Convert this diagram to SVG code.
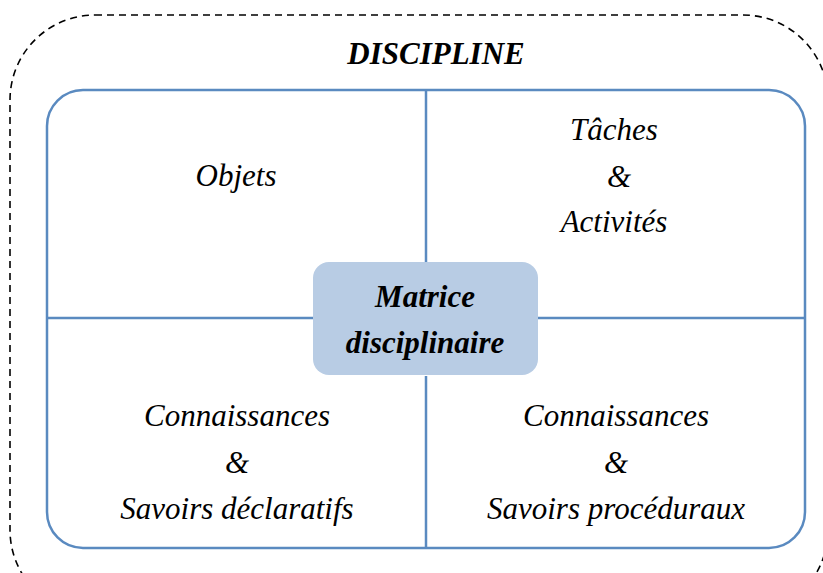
<svg xmlns="http://www.w3.org/2000/svg" width="823" height="573" viewBox="0 0 823 573">
<style>
text{font-family:"Liberation Serif","Times New Roman",serif;font-style:italic;font-size:31px;text-anchor:middle;fill:#000}
.b{font-weight:bold}
.ln{stroke:#5A8AC0;stroke-width:2.5;fill:none}
</style>
<rect width="823" height="573" fill="#fff"/>
<g id="discipline">
<rect x="10" y="15" width="818" height="600" rx="85" ry="85" fill="none" stroke="#000" stroke-width="1.6" stroke-dasharray="7,5"/>
<text class="b" x="436" y="64" font-size="34">DISCIPLINE</text>
</g>
<g id="frame">
<rect class="ln" x="47" y="90" width="758" height="458" rx="36" ry="36"/>
</g>
<g id="connectors">
<line class="ln" x1="426" y1="90" x2="426" y2="263"/>
<line class="ln" x1="426" y1="376" x2="426" y2="548"/>
<line class="ln" x1="47" y1="318" x2="313" y2="318"/>
<line class="ln" x1="538" y1="318" x2="805" y2="318"/>
</g>
<g id="objets"><text x="236" y="186">Objets</text></g>
<g id="taches">
<text x="614" y="140">Tâches</text>
<text x="619" y="187">&amp;</text>
<text x="614" y="232">Activités</text>
</g>
<g id="declaratifs">
<text x="237" y="426">Connaissances</text>
<text x="237" y="473">&amp;</text>
<text x="237" y="519">Savoirs déclaratifs</text>
</g>
<g id="proceduraux">
<text x="616" y="426">Connaissances</text>
<text x="616" y="473">&amp;</text>
<text x="616" y="519">Savoirs procéduraux</text>
</g>
<g id="matrice">
<rect x="313" y="262" width="225" height="113" rx="16" ry="16" fill="#B8CCE4"/>
<text class="b" x="425" y="307" font-size="31">Matrice</text>
<text class="b" x="425" y="353" font-size="31">disciplinaire</text>
</g>
</svg>
